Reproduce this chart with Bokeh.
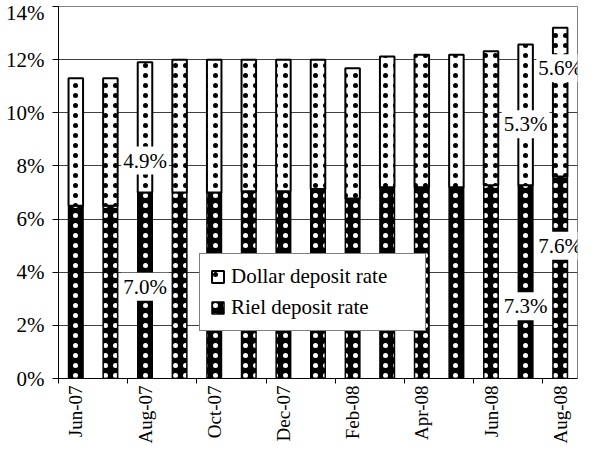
import math
from bokeh.plotting import figure
from bokeh.models import (ColumnDataSource, FixedTicker, PrintfTickFormatter,
                          Range1d, Label, Legend, LegendItem)
from bokeh.embed import file_html
from bokeh.resources import INLINE

months = ["Jun-07", "Jul-07", "Aug-07", "Sep-07", "Oct-07", "Nov-07", "Dec-07",
          "Jan-08", "Feb-08", "Mar-08", "Apr-08", "May-08", "Jun-08", "Jul-08", "Aug-08"]
riel = [6.5, 6.5, 7.0, 7.0, 7.0, 7.05, 7.05, 7.13, 6.77, 7.2, 7.2, 7.2, 7.27, 7.27, 7.6]
dollar = [4.8, 4.8, 4.9, 5.0, 5.0, 4.95, 4.95, 4.87, 4.91, 4.92, 4.98, 4.98, 5.05, 5.3, 5.6]

label_months = ["Aug-07", "Jul-08", "Aug-08", "Aug-07", "Jul-08", "Aug-08"]
label_texts = ["4.9%", "5.3%", "5.6%", "7.0%", "7.3%", "7.6%"]
label_y = [8.2, 9.57, 11.68, 3.45, 2.72, 5.0]

FONT = "Liberation Serif"

x = [i + 0.5 for i in range(len(months))]
total = [r + d for r, d in zip(riel, dollar)]
src = ColumnDataSource(dict(x=x, riel=riel, total=total))

p = figure(width=591, height=446, output_backend="svg", toolbar_location=None,
           x_range=Range1d(0, len(months)), y_range=Range1d(0, 14),
           min_border_left=58, min_border_right=14, min_border_top=6,
           min_border_bottom=60)
p.background_fill_color = "white"
p.border_fill_color = "white"
p.outline_line_color = "#808080"

r_riel = p.vbar(x="x", bottom=0, top="riel", width=0.42, source=src,
                fill_color="black", line_color="black", line_width=1.5,
                hatch_pattern="dot", hatch_color="white", hatch_scale=10,
                hatch_weight=0.5)
r_dollar = p.vbar(x="x", bottom="riel", top="total", width=0.42, source=src,
                  fill_color="white", line_color="black", line_width=2,
                  hatch_pattern="dot", hatch_color="black", hatch_scale=10,
                  hatch_weight=0.5)

# axes
p.xgrid.grid_line_color = None
p.ygrid.ticker = FixedTicker(ticks=list(range(0, 15, 2)))
p.ygrid.grid_line_color = "#404040"
p.ygrid.grid_line_width = 1

p.yaxis.ticker = FixedTicker(ticks=list(range(0, 15, 2)))
p.yaxis.formatter = PrintfTickFormatter(format="%d%%")
p.yaxis.major_label_text_font = FONT
p.yaxis.major_label_text_font_size = "21px"
p.yaxis.major_label_text_color = "black"
p.yaxis.major_tick_out = 6
p.yaxis.major_tick_in = 0
p.yaxis.minor_tick_line_color = None
p.yaxis.axis_line_color = "black"
p.yaxis.major_label_standoff = 8

p.xaxis.ticker = FixedTicker(ticks=x[::2], minor_ticks=list(range(0, len(months), 2)))
p.xaxis.major_label_overrides = {xv: m for xv, m in zip(x[::2], months[::2])}
p.xaxis.major_label_orientation = math.pi / 2
p.xaxis.major_label_text_font = FONT
p.xaxis.major_label_text_font_size = "19px"
p.xaxis.major_label_text_color = "black"
p.xaxis.major_tick_line_color = None
p.xaxis.major_tick_out = 0
p.xaxis.major_tick_in = 0
p.xaxis.minor_tick_out = 5
p.xaxis.minor_tick_in = 0
p.xaxis.minor_tick_line_color = "black"
p.xaxis.axis_line_color = "black"
p.xaxis.major_label_standoff = 2

# data labels
for m, t, yv in zip(label_months, label_texts, label_y):
    p.add_layout(Label(x=months.index(m) + 0.5, y=yv, text=t,
                       text_align="center", text_baseline="middle",
                       text_font=FONT, text_font_size="21px",
                       text_color="black", background_fill_color="white",
                       padding=2))

legend = Legend(items=[LegendItem(label="Dollar deposit rate", renderers=[r_dollar]),
                       LegendItem(label="Riel deposit rate", renderers=[r_riel])],
                location=(141, 47))
legend.label_text_font = FONT
legend.label_text_font_size = "21px"
legend.label_text_color = "black"
legend.border_line_color = "black"
legend.border_line_width = 1
legend.background_fill_color = "white"
legend.background_fill_alpha = 1
legend.glyph_width = 15
legend.glyph_height = 15
legend.label_height = 24
legend.label_width = 184
legend.label_standoff = 6
legend.spacing = 6
legend.padding = 10
legend.margin = 0
p.add_layout(legend)

open("out.html", "w").write(file_html(p, INLINE))
